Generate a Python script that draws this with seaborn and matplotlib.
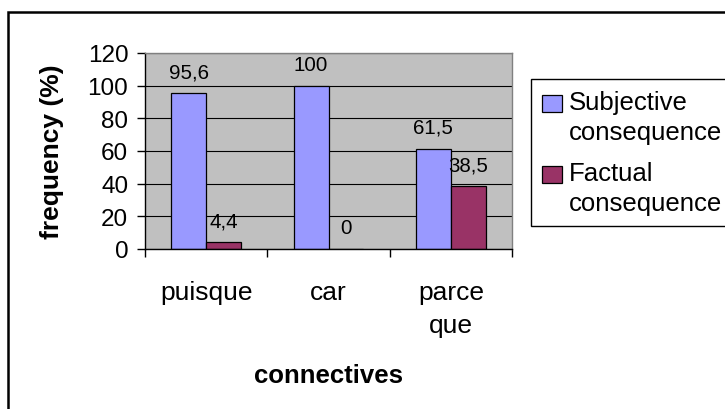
import matplotlib
matplotlib.use("Agg")
import matplotlib.pyplot as plt
import seaborn as sns
import pandas as pd
from matplotlib.patches import Patch, Rectangle
from matplotlib.legend_handler import HandlerPatch
from matplotlib.ticker import FixedLocator

# Data
connectives = ["puisque", "car", "parce\nque"]
series_names = ["Subjective\nconsequence", "Factual\nconsequence"]
subjective = [95.6, 100, 61.5]
factual = [4.4, 0, 38.5]
yticks = [0, 20, 40, 60, 80, 100, 120]
colors = ["#9999FF", "#993366"]

plt.rcParams["font.family"] = ["Liberation Sans", "DejaVu Sans"]

df = pd.DataFrame({
    "connective": connectives * 2,
    "series": [series_names[0]] * len(connectives) + [series_names[1]] * len(connectives),
    "value": subjective + factual,
})

fig = plt.figure(figsize=(7.25, 4.1), dpi=100)
ax = fig.add_axes([145 / 725, 160 / 410, 367 / 725, 196 / 410])
ax.set_facecolor("#C0C0C0")
ax.set_axisbelow(True)

sns.barplot(data=df, x="connective", y="value", hue="series",
            order=connectives, hue_order=series_names, palette=colors,
            width=0.57, saturation=1, edgecolor="black", linewidth=0.9,
            legend=False, ax=ax)

ax.set_xlim(-0.5, len(connectives) - 0.5)
ax.set_ylim(yticks[0], yticks[-1])
ax.set_yticks(yticks)
ax.yaxis.grid(True, color="black", linewidth=0.8)
ax.xaxis.grid(False)

# value labels with decimal comma
for cont, vals in zip(ax.containers, [subjective, factual]):
    ax.bar_label(cont, labels=[f"{v:g}".replace(".", ",") for v in vals],
                 padding=8.4, fontsize=14.8)

# ticks: categories unmarked, separators between groups
ax.tick_params(axis="x", which="major", length=0, pad=22, labelsize=19)
for lbl in ax.get_xticklabels():
    lbl.set_linespacing(1.5)
ax.xaxis.set_minor_locator(FixedLocator([i - 0.5 for i in range(len(connectives) + 1)]))
ax.tick_params(axis="x", which="minor", length=6, width=1, direction="out", color="black")
ax.tick_params(axis="y", length=6, width=1, direction="out", pad=6, labelsize=17.5, color="black")

for side in ("left", "bottom"):
    ax.spines[side].set_color("black")
    ax.spines[side].set_linewidth(1)
for side in ("top", "right"):
    ax.spines[side].set_color("#808080")
    ax.spines[side].set_linewidth(1)

ax.set_xlabel("connectives", fontsize=18.5, fontweight="bold")
ax.set_ylabel("frequency (%)", fontsize=19, fontweight="bold")
ax.xaxis.set_label_coords(0.5, -0.679)
ax.xaxis.label.set_va("baseline")
ax.yaxis.set_label_coords(-0.253, 0.5)
ax.yaxis.label.set_va("center")


# legend keys sit beside the first line of each two-line label
def first_line_key(legend, orig_handle, xdescent, ydescent, width, height, fontsize):
    return Rectangle((-xdescent, -ydescent + 10.1), width, height)


handles = [Patch(facecolor=c, edgecolor="black", linewidth=0.9) for c in colors]
leg = fig.legend(handles, series_names, loc="upper left",
                 bbox_to_anchor=(531 / 725, 330 / 410), bbox_transform=fig.transFigure,
                 handler_map={Patch: HandlerPatch(patch_func=first_line_key)},
                 frameon=True, fancybox=False, edgecolor="black", framealpha=1,
                 fontsize=18.5, handlelength=0.78, handleheight=0.62, handletextpad=0.25,
                 labelspacing=0.68, borderpad=0.43, borderaxespad=0)
leg.get_frame().set_linewidth(1)
for t in leg.get_texts():
    t.set_linespacing(1.3)

# outer chart frame
fig.patches.append(Rectangle((8 / 725, -0.2), 1.0, 0.2 + 397 / 410,
                             transform=fig.transFigure, fill=False,
                             edgecolor="black", linewidth=1.8))

fig.savefig("out.png", dpi=100)
